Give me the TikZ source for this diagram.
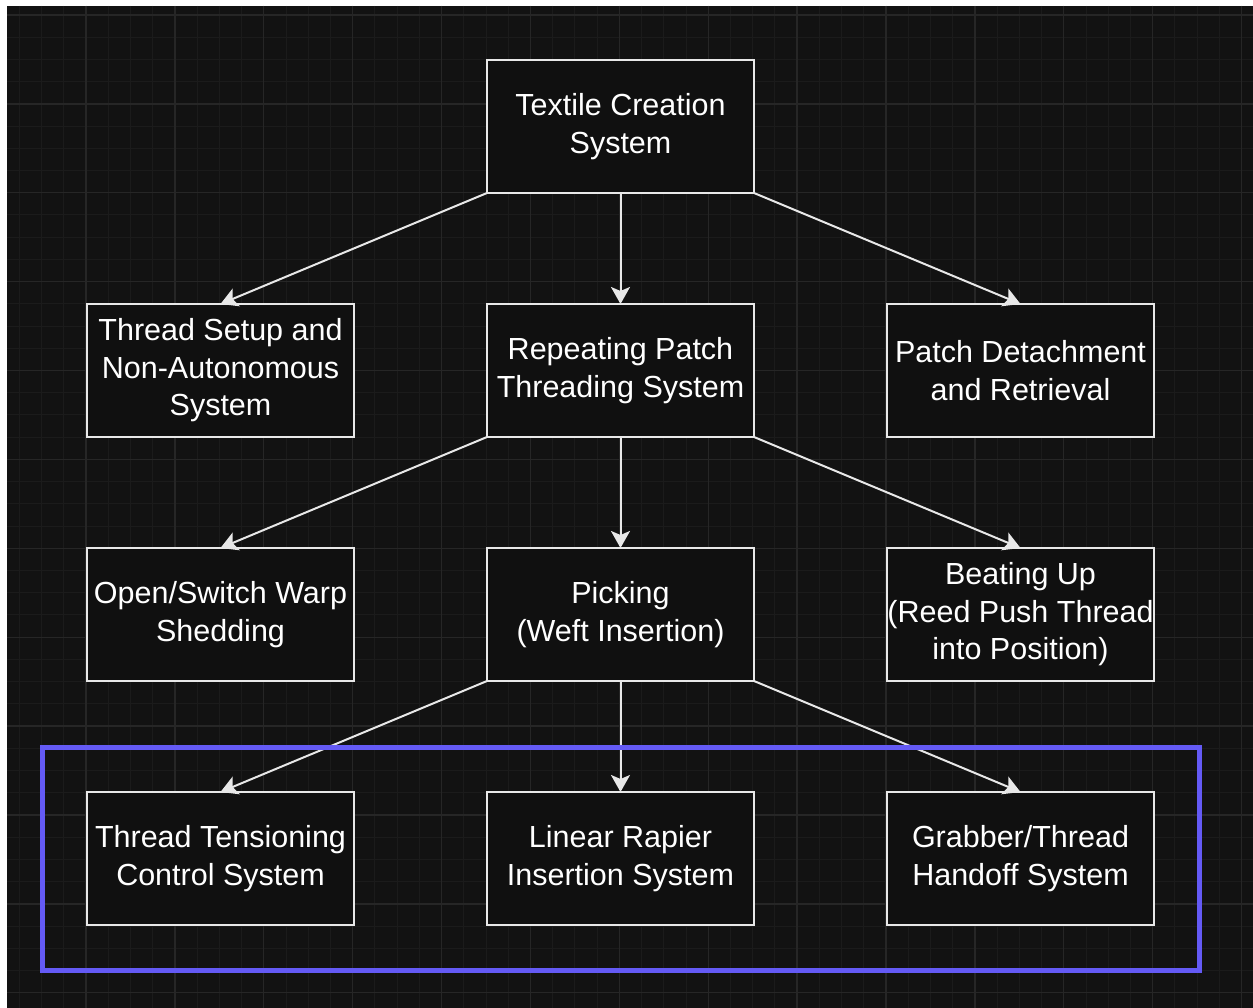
\documentclass[tikz,border=0pt]{standalone}
\usepackage{fontspec}
\setmainfont{Liberation Sans}
\usetikzlibrary{positioning,arrows.meta,fit}

\definecolor{canvas}{RGB}{18,18,18}
\definecolor{gridminor}{RGB}{27,27,27}
\definecolor{gridmajor}{RGB}{38,38,38}
\definecolor{boxfill}{RGB}{16,16,16}
\definecolor{boxline}{RGB}{232,232,232}
\definecolor{groupblue}{RGB}{100,90,245}

\begin{document}
\begin{tikzpicture}
    [x=1pt,y=-1pt,
     blk/.style={rectangle,draw=boxline,fill=boxfill,line width=2pt,
       minimum width=267pt,minimum height=133pt,inner sep=0pt,outer sep=0pt,
       align=center,text=white,font=\fontsize{30.5}{37.5}\selectfont,
       execute at begin node={\rule{0pt}{30pt}}},
     link/.style={draw=boxline,line width=2pt,
       -{Stealth[length=17pt,width=19pt,inset=4pt]}},
     node distance=111pt and 133pt]

    % canvas and grid
    \fill[white] (0,0) rectangle (1253,1008);
    \fill[canvas] (7,6) rectangle (1253,1008);
    \useasboundingbox (0,0) rectangle (1253,1008);
    \begin{scope}
      \clip (7,6) rectangle (1253,1008);
      \foreach \k in {-3,...,52} {
        \pgfmathsetmacro\gx{86+22.222*\k}
        \draw[gridminor,line width=1pt] (\gx,6) -- (\gx,1008);
      }
      \foreach \k in {0,...,44} {
        \pgfmathsetmacro\gy{15+22.222*\k}
        \draw[gridminor,line width=1pt] (7,\gy) -- (1253,\gy);
      }
      \foreach \k in {0,4,...,52} {
        \pgfmathsetmacro\gx{86+22.222*\k}
        \draw[gridmajor,line width=1.3pt] (\gx,6) -- (\gx,1008);
      }
      \foreach \k in {0,4,...,44} {
        \pgfmathsetmacro\gy{15+22.222*\k}
        \draw[gridmajor,line width=1.3pt] (7,\gy) -- (1253,\gy);
      }
    \end{scope}

    \node[blk] (textile) at (620.5,126.5) {Textile Creation\\System};

    \node[blk] (repeating) [below=of textile] {Repeating Patch\\Threading System};

    \node[blk] (setup) [left=of repeating] {Thread Setup and\\Non-Autonomous\\System};

    \node[blk] (detach) [right=of repeating] {Patch Detachment\\and Retrieval};

    \node[blk] (picking) [below=of repeating] {Picking\\(Weft Insertion)};

    \node[blk] (shedding) [left=of picking] {Open/Switch Warp\\Shedding};

    \node[blk] (beating) [right=of picking] {Beating Up\\(Reed Push Thread\\into Position)};

    \node[blk] (rapier) [below=of picking] {Linear Rapier\\Insertion System};

    \node[blk] (tension) [left=of rapier] {Thread Tensioning\\Control System};

    \node[blk] (grabber) [right=of rapier] {Grabber/Thread\\Handoff System};

    % tree links
    \draw[link] (textile.south west) -- (setup.north);
    \draw[link] (textile.south) -- (repeating.north);
    \draw[link] (textile.south east) -- (detach.north);

    \draw[link] (repeating.south west) -- (shedding.north);
    \draw[link] (repeating.south) -- (picking.north);
    \draw[link] (repeating.south east) -- (beating.north);

    \draw[link] (picking.south west) -- (tension.north);
    \draw[link] (picking.south) -- (rapier.north);
    \draw[link] (picking.south east) -- (grabber.north);

    % weft insertion group
    \node[draw=groupblue,line width=5pt,inner sep=45pt,
      fit=(tension)(rapier)(grabber)] (weftgroup) {};
\end{tikzpicture}
\end{document}
